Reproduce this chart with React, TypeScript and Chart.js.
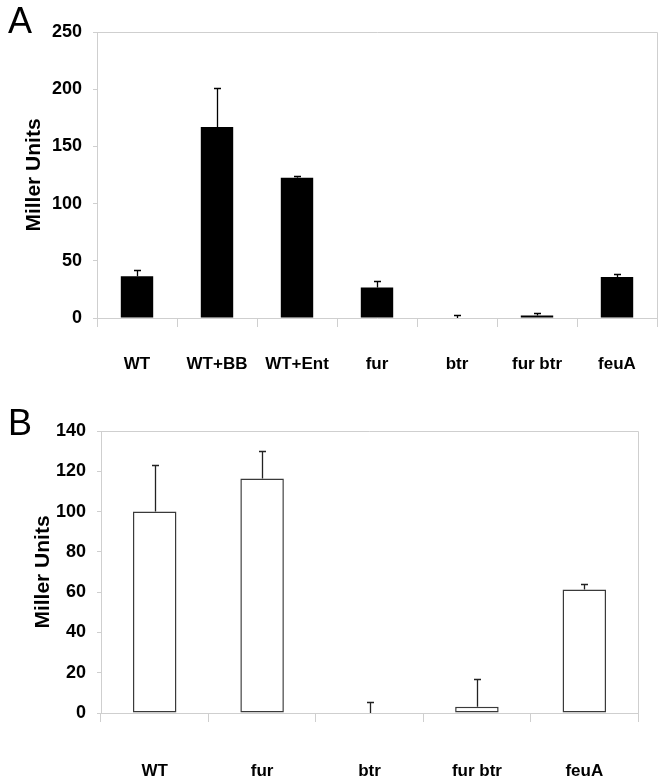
import React, { useEffect, useRef } from "react";
import { Chart, registerables } from "chart.js";

Chart.register(...registerables);

// ---- Panel A data ----
const categoriesA = ["WT", "WT+BB", "WT+Ent", "fur", "btr", "fur btr", "feuA"];
const valuesA = [36.5, 167, 122.7, 26.6, 0, 2.1, 35.8];
const errorsA = [5.8, 34.4, 1.8, 6.1, 3, 2.6, 2.4];
const ticksA = [0, 50, 100, 150, 200, 250];

// ---- Panel B data ----
const categoriesB = ["WT", "fur", "btr", "fur btr", "feuA"];
const valuesB = [100, 116.4, 0, 3.1, 61.3];
const errorsB = [23, 13.9, 5.4, 13.7, 2.5];
const ticksB = [0, 20, 40, 60, 80, 100, 120, 140];

const axisTitle = "Miller Units";
const FONT = "'Liberation Sans', Arial, sans-serif";
const GRAY = "#cfcfcf";

const errorBarPlugin = {
  id: "errorBars",
  afterDatasetsDraw(chart: any, _args: any, opts: any) {
    const { ctx } = chart;
    const meta = chart.getDatasetMeta(0);
    const yScale = chart.scales.y;
    const vals = chart.data.datasets[0].data as number[];
    const errs = opts.errors as number[];
    ctx.save();
    ctx.strokeStyle = opts.color;
    ctx.lineWidth = opts.width;
    meta.data.forEach((el: any, i: number) => {
      const x = Math.round(el.x) + 0.5;
      const y0 = yScale.getPixelForValue(vals[i]);
      const y1 = Math.round(yScale.getPixelForValue(vals[i] + errs[i])) + 0.5;
      ctx.beginPath();
      ctx.moveTo(x, y0);
      ctx.lineTo(x, y1);
      ctx.moveTo(x - opts.cap, y1);
      ctx.lineTo(x + opts.cap, y1);
      ctx.stroke();
    });
    ctx.restore();
  },
};

const frameAndLabelPlugin = {
  id: "frameAndLabel",
  afterDraw(chart: any, _args: any, opts: any) {
    const { ctx, chartArea } = chart;
    ctx.save();
    ctx.strokeStyle = GRAY;
    ctx.lineWidth = 1;
    ctx.beginPath();
    ctx.moveTo(Math.round(chartArea.left), Math.round(chartArea.top) + 0.5);
    ctx.lineTo(Math.round(chartArea.right) + 0.5, Math.round(chartArea.top) + 0.5);
    ctx.lineTo(Math.round(chartArea.right) + 0.5, Math.round(chartArea.bottom));
    ctx.stroke();
    ctx.fillStyle = "#000";
    ctx.font = "36px 'Liberation Sans', Arial, sans-serif";
    ctx.textBaseline = "alphabetic";
    ctx.textAlign = "left";
    ctx.fillText(opts.letter, opts.lx, opts.ly);
    ctx.restore();
  },
};

function makeConfig(p: {
  categories: string[];
  values: number[];
  errors: number[];
  ticks: number[];
  fill: string;
  border: string;
  borderWidth: number;
  errColor: string;
  yWidth: number;
  xHeight: number;
  padTop: number;
  padRight: number;
  titlePad: number;
  xLabelPad: number;
  letter: string;
  lx: number;
  ly: number;
}) {
  return {
    type: "bar",
    data: {
      labels: p.categories,
      datasets: [
        {
          data: p.values,
          backgroundColor: p.fill,
          borderColor: p.border,
          borderWidth: p.borderWidth,
          borderSkipped: false,
          barPercentage: 0.405,
          categoryPercentage: 1,
        },
      ],
    },
    options: {
      responsive: false,
      animation: false,
      devicePixelRatio: 1,
      layout: { padding: { top: p.padTop, right: p.padRight, left: 0, bottom: 0 } },
      plugins: {
        legend: { display: false },
        tooltip: { enabled: false },
        errorBars: { errors: p.errors, color: p.errColor, width: 1.3, cap: 3.5 },
        frameAndLabel: { letter: p.letter, lx: p.lx, ly: p.ly },
      },
      scales: {
        x: {
          grid: {
            offset: true,
            drawOnChartArea: false,
            drawTicks: true,
            tickLength: 9,
            color: GRAY,
          },
          border: { display: true, color: GRAY, width: 1 },
          ticks: {
            color: "#000",
            font: { family: FONT, size: 17, weight: "bold" },
            padding: p.xLabelPad,
            maxRotation: 0,
            autoSkip: false,
          },
          afterFit: (s: any) => {
            s.height = p.xHeight;
          },
        },
        y: {
          min: p.ticks[0],
          max: p.ticks[p.ticks.length - 1],
          afterBuildTicks: (s: any) => {
            s.ticks = p.ticks.map((v) => ({ value: v }));
          },
          grid: {
            drawOnChartArea: false,
            drawTicks: true,
            tickLength: 4,
            color: GRAY,
          },
          border: { display: true, color: GRAY, width: 1 },
          ticks: {
            color: "#000",
            font: { family: FONT, size: 18, weight: "bold" },
            padding: 11,
          },
          title: {
            display: true,
            text: axisTitle,
            color: "#000",
            font: { family: FONT, size: 21, weight: "bold" },
            padding: { top: p.titlePad, bottom: 0 },
          },
          afterFit: (s: any) => {
            s.width = p.yWidth;
          },
        },
      },
    },
    plugins: [errorBarPlugin, frameAndLabelPlugin],
  } as any;
}

function ChartCanvas({ config, width, height, top }: any) {
  const ref = useRef<HTMLCanvasElement | null>(null);
  useEffect(() => {
    if (!ref.current) return;
    const chart = new Chart(ref.current, config);
    return () => chart.destroy();
  }, []);
  return (
    <canvas
      ref={ref}
      width={width}
      height={height}
      style={{ position: "absolute", left: 0, top, width, height }}
    />
  );
}

export default function App() {
  const configA = makeConfig({
    categories: categoriesA,
    values: valuesA,
    errors: errorsA,
    ticks: ticksA,
    fill: "#000",
    border: "#000",
    borderWidth: 0,
    errColor: "#000",
    yWidth: 97,
    xHeight: 380 - 318,
    padTop: 32,
    padRight: 664 - 657,
    titlePad: 22,
    xLabelPad: 27,
    letter: "A",
    lx: 8,
    ly: 33,
  });
  const configB = makeConfig({
    categories: categoriesB,
    values: valuesB,
    errors: errorsB,
    ticks: ticksB,
    fill: "#fff",
    border: "#3a3a3a",
    borderWidth: 1.5,
    errColor: "#222",
    yWidth: 101,
    xHeight: 783 - 713,
    padTop: 431 - 380,
    padRight: 664 - 638,
    titlePad: 31,
    xLabelPad: 39,
    letter: "B",
    lx: 8,
    ly: 435 - 380,
  });
  return (
    <div style={{ position: "absolute", left: 0, top: 0, width: 664, height: 783, background: "#fff" }}>
      <ChartCanvas config={configA} width={664} height={380} top={0} />
      <ChartCanvas config={configB} width={664} height={403} top={380} />
    </div>
  );
}
